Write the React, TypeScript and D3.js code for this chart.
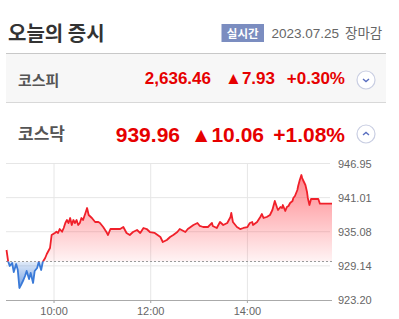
import React from "react";
import * as d3 from "d3";

// minutes after 09:00
const minutes = [1,3,5,8,10,13,15,17,19,22,24,26,29,31,34,36,39,41,44,46,49,51,53,55,57,61,63,65,67,70,72,74,76,78,80,82,84,86,88,90,92,94,96,99,101,103,107,111,115,117,121,125,127,130,136,142,146,150,154,158,163,167,171,175,179,185,192,195,200,204,208,213,216,223,226,233,238,241,245,251,256,257,262,266,270,275,279,280,282,287,291,295,300,303,306,307,312,316,318,320,324,328,331,332,334,337,338,341,343,344,347,349,351,353,356,357,359,362,363,365,367,368,369,372,374,375,377,379,388,390,405];
const values = [931.90,929.95,929.12,929.64,928.07,929.46,928.42,925.29,925.81,926.68,927.38,928.25,926.85,927.90,926.16,928.25,928.77,929.81,928.42,929.81,930.51,931.20,931.73,932.25,934.51,934.86,935.08,934.86,935.55,935.08,935.73,936.60,937.12,936.60,937.47,936.25,937.12,936.60,937.12,936.25,936.60,937.47,937.12,938.34,939.21,937.99,937.47,936.77,936.77,936.60,935.90,935.03,934.51,935.55,935.55,935.55,935.90,934.86,934.51,935.03,935.38,934.86,935.73,935.55,935.03,934.86,934.16,933.29,933.64,934.16,934.51,935.03,935.55,935.03,935.55,936.25,936.60,936.08,935.90,935.90,936.60,936.08,935.73,936.77,936.25,936.60,937.64,938.34,936.77,935.90,935.55,935.73,935.90,936.60,936.77,936.25,936.77,937.64,938.16,937.47,937.64,937.99,938.86,939.38,940.43,939.21,938.86,939.38,939.21,939.73,938.69,939.38,939.56,940.08,940.43,940.95,941.30,942.34,943.04,944.08,944.95,944.43,944.08,943.21,941.99,940.95,939.73,940.77,940.77,939.96,939.96];
const prevClose = 929.90;
const yTicks = [923.20, 929.14, 935.08, 941.01, 946.95];
const xTicks = [60, 180, 300];
const xTickLabels = ["10:00", "12:00", "14:00"];

const indexNames = ["코스피", "코스닥"];
const indexValues = ["2,636.46", "939.96"];
const indexChanges = ["▲7.93", "▲10.06"];
const indexRates = ["+0.30%", "+1.08%"];

export default function App() {
  const x = d3.scaleLinear().domain([0, 405]).range([5.7, 332]);
  const y = d3.scaleLinear().domain([923.2, 946.95]).range([300, 163.5]);
  const data = minutes.map((m, i) => ({ m, v: values[i] }));
  const line = d3.line<any>().x(d => x(d.m)).y(d => y(d.v));
  const area = d3.area<any>().x(d => x(d.m)).y0(y(prevClose)).y1(d => y(d.v));
  const by = y(prevClose);
  const red = "#f0202a";
  const blue = "#3a7ad8";
  const font = "'Liberation Sans', Arial, sans-serif";
  const kfont = "'Noto Sans CJK KR', 'Noto Sans', sans-serif";

  return (
    <svg width={399} height={319} style={{ position: "absolute", left: 0, top: 0, background: "#fff" }}>
      <defs>
        <linearGradient id="redG" gradientUnits="userSpaceOnUse" x1="0" y1={175} x2="0" y2={by}>
          <stop offset="0" stopColor="#ff3c46" stopOpacity={0.62} />
          <stop offset="1" stopColor="#ff3c46" stopOpacity={0.06} />
        </linearGradient>
        <linearGradient id="blueG" gradientUnits="userSpaceOnUse" x1="0" y1={by} x2="0" y2={290}>
          <stop offset="0" stopColor="#3a7ad8" stopOpacity={0.15} />
          <stop offset="1" stopColor="#3a7ad8" stopOpacity={0.75} />
        </linearGradient>
        <clipPath id="above"><rect x={0} y={0} width={399} height={by} /></clipPath>
        <clipPath id="below"><rect x={0} y={by} width={399} height={319 - by} /></clipPath>
      </defs>

      {/* header */}
      <text x={8} y={41} fontFamily={kfont} fontSize={20} fontWeight={700} fill="#333">오늘의 증시</text>
      <rect x={221.5} y={24} width={42.5} height={18} fill="#7b8dc0" />
      <text x={242.7} y={37.5} textAnchor="middle" fontFamily={kfont} fontSize={11.5} fontWeight={700} fill="#fff">실시간</text>
      <text x={271.5} y={38} fontFamily={font} fontSize={13.5} fill="#666">2023.07.25</text>
      <text x={345} y={38} fontFamily={kfont} fontSize={13.5} fill="#666">장마감</text>

      {/* rows */}
      <rect x={6} y={53} width={380} height={50} fill="#f7f7f7" />
      <line x1={6} x2={386} y1={53.5} y2={53.5} stroke="#c8c8c8" />
      <line x1={6} x2={386} y1={102.5} y2={102.5} stroke="#d8d8d8" />
      {[0, 1].map(i => {
        const cy = i === 0 ? 80 : 134;
        const big = i === 1;
        const fs = big ? 21 : 17;
        const base = big ? 141.5 : 83.5;
        const ends = big ? [180, 264, 345] : [211, 275, 345];
        return (
          <g key={i}>
            <text x={18} y={big ? 140 : 86} fontFamily={kfont} fontSize={big ? 17 : 15} fontWeight={700} fill="#555">{indexNames[i]}</text>
            <text x={ends[0]} y={base} textAnchor="end" fontFamily={font} fontSize={fs} fontWeight={700} fill="#e60000">{indexValues[i]}</text>
            <text x={ends[1]} y={base} textAnchor="end" fontFamily={font} fontSize={fs} fontWeight={700} fill="#e60000">{indexChanges[i]}</text>
            <text x={ends[2]} y={base} textAnchor="end" fontFamily={font} fontSize={fs} fontWeight={700} fill="#e60000">{indexRates[i]}</text>
            <circle cx={366} cy={cy} r={9} fill="#fff" stroke="#c9cee2" strokeWidth={1.2} />
            <path d={i === 0 ? `M${363},${cy - 1} L366,${cy + 1.5} L369,${cy - 1}` : `M${363},${cy + 1} L366,${cy - 1.5} L369,${cy + 1}`}
              fill="none" stroke="#5a6fc0" strokeWidth={1.4} />
          </g>
        );
      })}

      {/* grid */}
      {yTicks.slice(1).map(t => (
        <line key={t} x1={6} x2={330} y1={y(t)} y2={y(t)} stroke="#e6e6e6" />
      ))}
      {xTicks.map(t => (
        <line key={t} x1={x(t)} x2={x(t)} y1={163.5} y2={303} stroke="#e6e6e6" />
      ))}
      {xTicks.map(t => (
        <line key={"t" + t} x1={x(t)} x2={x(t)} y1={300} y2={303} stroke="#aaa" />
      ))}

      {/* areas */}
      <path d={area(data) || ""} fill="url(#redG)" clipPath="url(#above)" />
      <path d={area(data) || ""} fill="url(#blueG)" clipPath="url(#below)" />
      <line x1={6} x2={332} y1={by} y2={by} stroke="#999" strokeDasharray="2,2" />
      <path d={line(data) || ""} fill="none" stroke={red} strokeWidth={1.8} clipPath="url(#above)" strokeLinejoin="round" />
      <path d={line(data) || ""} fill="none" stroke={blue} strokeWidth={1.8} clipPath="url(#below)" strokeLinejoin="round" />

      <line x1={6} x2={332} y1={300.5} y2={300.5} stroke="#aaa" />

      {/* labels */}
      {yTicks.map(t => (
        <text key={t} x={338} y={y(t) + 4} fontFamily={font} fontSize={11} fill="#666">{t.toFixed(2)}</text>
      ))}
      {xTicks.map((t, i) => (
        <text key={t} x={x(t)} y={315} textAnchor="middle" fontFamily={font} fontSize={11} fill="#666">{xTickLabels[i]}</text>
      ))}
    </svg>
  );
}
